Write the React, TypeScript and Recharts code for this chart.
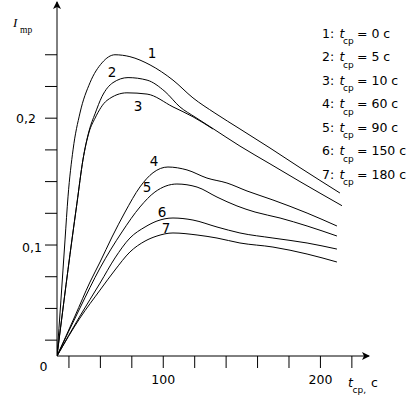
import React from 'react';
import { LineChart, Line, XAxis, YAxis, ReferenceDot } from 'recharts';

// Axis extents (the schematic axes start at the drawn origin "0")
const T_MIN = 32.4;
const T_MAX = 230.9;
const I_MIN = 0.0125;
const I_MAX = 0.2916;

const X_TICKS = [40, 60, 80, 100, 120, 140, 160, 180, 200, 220];
const X_TICK_LABELS = ['', '', '', '100', '', '', '', '', '200', ''];
const Y_TICKS = [0.025, 0.05, 0.075, 0.1, 0.125, 0.15, 0.175, 0.2, 0.225, 0.25];
const Y_TICK_LABELS = ['', '', '', '0,1', '', '', '', '0,2', '', ''];

// curve 1: t_cp = 0 c
const c1T = [32.4, 34.9, 37.5, 39.4, 42.6, 47.0, 53.4, 61.0, 69.3, 78.8, 91.6, 106.2, 118.9, 132.9, 148.8, 167.9, 187.0, 212.4];
const c1I = [0.0125, 0.0566, 0.104, 0.138, 0.175, 0.204, 0.228, 0.2436, 0.250, 0.2485, 0.242, 0.230, 0.216, 0.204, 0.1915, 0.1765, 0.161, 0.141];
// curve 2: t_cp = 5 c
const c2T = [32.4, 36.9, 41.9, 45.1, 48.9, 52.8, 56.6, 61.0, 68.0, 77.6, 89.7, 101.1, 110.6, 120.2, 131.0, 148.8, 167.9, 187.0, 213.7];
const c2I = [0.0125, 0.0566, 0.104, 0.133, 0.1671, 0.190, 0.2035, 0.217, 0.228, 0.232, 0.230, 0.221, 0.2089, 0.2009, 0.1923, 0.178, 0.164, 0.150, 0.131];
// curve 3: t_cp = 10 c
const c3T = [32.4, 36.9, 41.9, 45.1, 48.9, 52.8, 56.6, 64.2, 76.9, 89.7, 106.2, 118.9, 131.6];
const c3I = [0.0125, 0.0566, 0.104, 0.133, 0.1671, 0.189, 0.200, 0.214, 0.220, 0.219, 0.2089, 0.2011, 0.1915];
// curve 4: t_cp = 60 c
const c4T = [32.4, 43.85, 53.4, 59.8, 67.4, 75.7, 85.2, 93.5, 103.0, 115.1, 127.8, 140.5, 153.3, 169.8, 191.5, 210.5];
const c4I = [0.0125, 0.044, 0.0708, 0.0866, 0.1063, 0.126, 0.1458, 0.157, 0.1615, 0.1592, 0.1528, 0.1489, 0.1426, 0.1355, 0.1252, 0.115];
// curve 5: t_cp = 90 c
const c5T = [32.4, 47.0, 59.8, 73.75, 85.2, 94.7, 108.7, 121.5, 134.2, 146.9, 158.4, 174.3, 191.5, 210.5];
const c5I = [0.0125, 0.0503, 0.0819, 0.1103, 0.130, 0.1418, 0.1481, 0.1457, 0.1378, 0.1308, 0.126, 0.1213, 0.115, 0.1071];
// curve 6: t_cp = 150 c
const c6T = [32.4, 47.0, 59.8, 69.3, 78.8, 88.4, 96.0, 106.2, 118.9, 134.2, 148.8, 169.8, 191.5, 210.5];
const c6I = [0.0125, 0.044, 0.070, 0.0898, 0.1055, 0.1142, 0.1189, 0.1213, 0.1197, 0.1142, 0.1095, 0.1055, 0.1016, 0.0968];
// curve 7: t_cp = 180 c
const c7T = [32.4, 47.0, 59.8, 69.3, 78.8, 88.4, 96.0, 106.2, 121.5, 134.2, 148.8, 169.8, 191.5, 210.5];
const c7I = [0.0125, 0.0424, 0.0645, 0.0803, 0.0945, 0.1031, 0.1071, 0.1095, 0.1079, 0.1055, 0.1016, 0.0984, 0.0929, 0.0866];

const curveNames = ['1', '2', '3', '4', '5', '6', '7'];
const legendT = [0, 5, 10, 60, 90, 150, 180];
// anchor of each curve's number label
const labelT = [92.8, 67.4, 83.9, 94.1, 89.7, 99.2, 101.7];
const labelI = [0.2514, 0.2364, 0.2096, 0.1663, 0.1458, 0.1261, 0.1134];

const toData = (ts: number[], vs: number[]) => ts.map((t, i) => ({ t, v: vs[i] }));
const curves = [
  toData(c1T, c1I), toData(c2T, c2I), toData(c3T, c3I), toData(c4T, c4I),
  toData(c5T, c5I), toData(c6T, c6I), toData(c7T, c7I),
];

const SANS = '"DejaVu Sans", sans-serif';
const SERIF = '"Liberation Serif", "DejaVu Serif", serif';

const XTick = (props: any) => {
  const { x, y, payload } = props;
  const idx = X_TICKS.findIndex((v) => Math.abs(v - payload.value) < 1e-6);
  const lab = idx >= 0 ? X_TICK_LABELS[idx] : '';
  if (!lab) return <g />;
  return (
    <text x={x} y={y + 16} textAnchor="middle" fontFamily={SANS} fontSize={12.5} fill="#000">
      {lab}
    </text>
  );
};

const YTick = (props: any) => {
  const { x, y, payload } = props;
  const idx = Y_TICKS.findIndex((v) => Math.abs(v - payload.value) < 1e-6);
  const lab = idx >= 0 ? Y_TICK_LABELS[idx] : '';
  if (!lab) return <g />;
  const dx = lab === '0,1' ? -3 : -9;
  const dy = lab === '0,1' ? 7 : 4.5;
  return (
    <text x={x + dx} y={y + dy} textAnchor="end" fontFamily={SANS} fontSize={12.5} fill="#000">
      {lab}
    </text>
  );
};

export default function App() {
  return (
    <div style={{ position: 'absolute', left: 0, top: 0, width: 419, height: 398, background: '#fff' }}>
      <LineChart width={419} height={398} margin={{ top: 2, right: 50, bottom: 0, left: 0 }}>
        <XAxis
          type="number"
          dataKey="t"
          domain={[T_MIN, T_MAX]}
          allowDataOverflow
          ticks={X_TICKS}
          interval={0}
          height={42}
          tickSize={12}
          tickMargin={0}
          axisLine={{ stroke: '#000', strokeWidth: 1 }}
          tickLine={{ stroke: '#000', strokeWidth: 1 }}
          tick={<XTick />}
        />
        <YAxis
          type="number"
          dataKey="v"
          domain={[I_MIN, I_MAX]}
          allowDataOverflow
          ticks={Y_TICKS}
          interval={0}
          width={57}
          tickSize={12}
          tickMargin={0}
          axisLine={{ stroke: '#000', strokeWidth: 1 }}
          tickLine={{ stroke: '#000', strokeWidth: 1 }}
          tick={<YTick />}
        />
        {curves.map((d, i) => (
          <Line
            key={curveNames[i]}
            data={d}
            dataKey="v"
            type="monotone"
            stroke="#000"
            strokeWidth={1}
            dot={false}
            activeDot={false}
            isAnimationActive={false}
          />
        ))}
        {curveNames.map((n, i) => (
          <ReferenceDot
            key={'lab' + n}
            x={labelT[i]}
            y={labelI[i]}
            ifOverflow="visible"
            shape={(p: any) => (
              <text x={p.cx} y={p.cy + 5} textAnchor="middle" fontFamily={SANS} fontSize={13.5} fill="#000">
                {n}
              </text>
            )}
          />
        ))}
        <ReferenceDot
          x={T_MIN}
          y={I_MAX}
          ifOverflow="visible"
          shape={(p: any) => (
            <path d={`M${p.cx},${p.cy - 1} L${p.cx - 4},${p.cy + 7} L${p.cx},${p.cy + 5} L${p.cx + 4},${p.cy + 7} Z`} fill="#000" />
          )}
        />
        <ReferenceDot
          x={T_MAX}
          y={I_MIN}
          ifOverflow="visible"
          shape={(p: any) => (
            <path d={`M${p.cx + 1},${p.cy} L${p.cx - 7},${p.cy - 4} L${p.cx - 5},${p.cy} L${p.cx - 7},${p.cy + 4} Z`} fill="#000" />
          )}
        />
        <ReferenceDot
          x={T_MIN}
          y={I_MIN}
          ifOverflow="visible"
          shape={(p: any) => (
            <text x={p.cx - 13.5} y={p.cy + 15} textAnchor="middle" fontFamily={SANS} fontSize={12.5} fill="#000">
              0
            </text>
          )}
        />
      </LineChart>
      <svg width={419} height={398} style={{ position: 'absolute', left: 0, top: 0, pointerEvents: 'none' }}>
        <text x={13} y={27} fontFamily={SERIF} fontStyle="italic" fontSize={13} fill="#000">I</text>
        <text x={20} y={33} fontFamily={SERIF} fontSize={9.5} fill="#000">mp</text>
        <text x={348} y={387} fontFamily={SANS} fontStyle="italic" fontSize={12.5} fill="#000">t</text>
        <text x={352.5} y={393} fontFamily={SANS} fontSize={9} fill="#000">ср,</text>
        <text x={371} y={387} fontFamily={SANS} fontSize={12.5} fill="#000">с</text>
        {legendT.map((tv, i) => {
          const base = 37.5 + 23.5 * i;
          return (
            <g key={'leg' + i}>
              <text x={322} y={base} fontFamily={SANS} fontSize={12.5} fill="#000">{curveNames[i] + ':'}</text>
              <text x={339.5} y={base} fontFamily={SANS} fontStyle="italic" fontSize={12.5} fill="#000">t</text>
              <text x={343} y={base + 6.5} fontFamily={SANS} fontSize={9} fill="#000">ср</text>
              <text x={357} y={base} fontFamily={SANS} fontSize={12.5} fill="#000">{'= ' + tv + ' с'}</text>
            </g>
          );
        })}
      </svg>
    </div>
  );
}
